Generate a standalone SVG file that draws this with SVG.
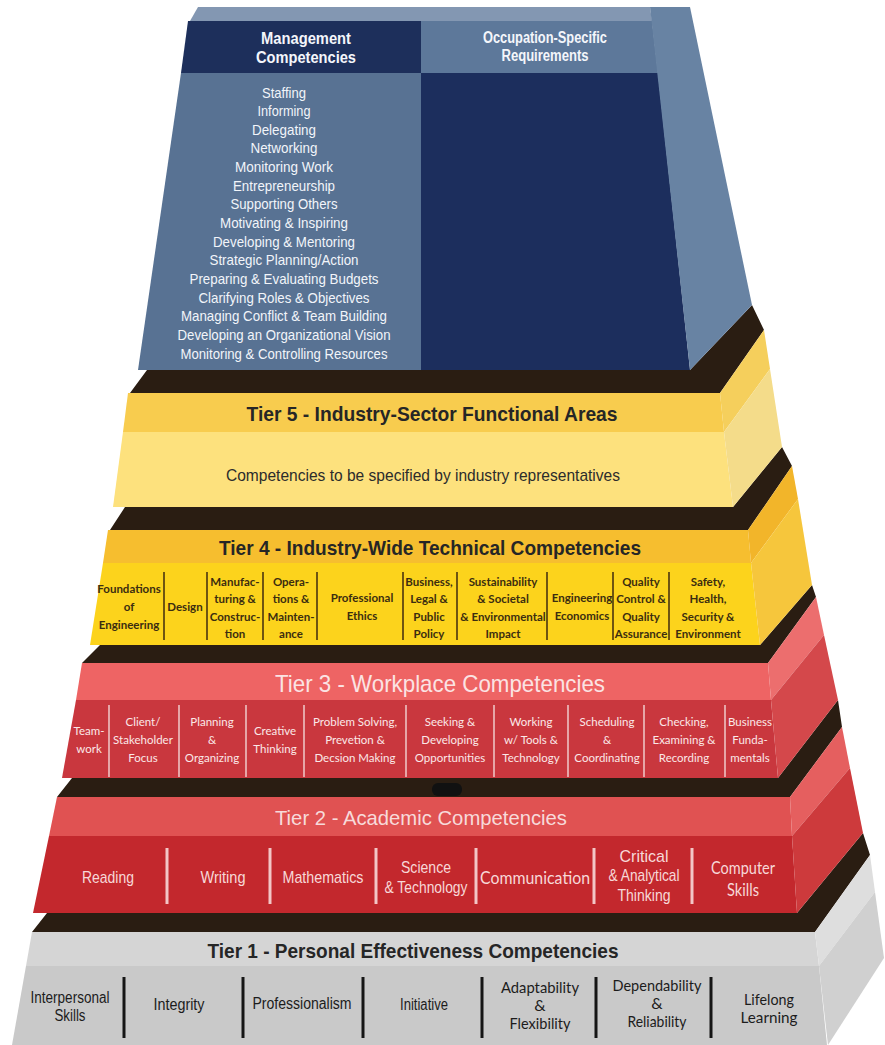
<svg xmlns="http://www.w3.org/2000/svg" width="885" height="1045" viewBox="0 0 885 1045">
  <defs>
    <style>
      text { text-anchor: middle; dominant-baseline: central; }
      .nar { font-family: 'Liberation Sans', Arial, sans-serif; }
      .cal { font-family: Lato, 'Open Sans', 'Liberation Sans', sans-serif; }
      .band { fill: #2a1d12; }
      .mg { fill: #f2f5fa; font-size: 15px; }
      .hd { fill: #f4f6fb; font-size: 16px; font-weight: bold; }
      .ttl { font-size: 21px; font-weight: bold; fill: #262626; }
      .t4 { fill: #3b2d10; font-size: 11.5px; font-weight: bold; }
      .t3 { fill: #fbe8e8; font-size: 11.5px; }
      .t2 { fill: #f7d8d8; font-size: 17px; }
      .t1 { fill: #1c1c1c; font-size: 16px; }
      .d4 { stroke: #4a3510; stroke-width: 1.6; }
      .d3 { stroke: #f2d6d6; stroke-width: 1.4; }
      .d2 { stroke: #f3c6c6; stroke-width: 3; }
      .d1 { stroke: #151515; stroke-width: 3; }
    </style>
  </defs>
  <rect width="885" height="1045" fill="#ffffff"/>

  <!-- Tier 1: personal effectiveness (grey slab, drawn first, furthest back) -->
  <g id="tier1">
    <polygon class="band" points="32,932 47,913 797,913 863,833 870,855 815,932"/>
    <polygon fill="#d5d5d5" points="32,932 815,932 819,966 26,966"/>
    <polygon fill="#c9c9c9" points="26,966 819,966 827,1045 12,1045"/>
    <polygon fill="#dedede" points="815,932 870,855 875,892 819,966"/>
    <polygon fill="#d0d0d0" points="819,966 875,892 884,958 828,1045"/>
    <text class="nar ttl" x="413" y="950" textLength="411" lengthAdjust="spacingAndGlyphs">Tier 1 - Personal Effectiveness Competencies</text>
    <g class="d1">
      <line x1="124" y1="977" x2="124" y2="1038"/>
      <line x1="243" y1="977" x2="243" y2="1038"/>
      <line x1="363" y1="977" x2="363" y2="1038"/>
      <line x1="482" y1="977" x2="482" y2="1038"/>
      <line x1="596" y1="977" x2="596" y2="1038"/>
      <line x1="711" y1="977" x2="711" y2="1038"/>
    </g>
    <text class="nar t1" x="70" y="997" textLength="79" lengthAdjust="spacingAndGlyphs">Interpersonal</text>
    <text class="nar t1" x="70" y="1015" textLength="31" lengthAdjust="spacingAndGlyphs">Skills</text>
    <text class="nar t1" x="179" y="1004" textLength="51" lengthAdjust="spacingAndGlyphs">Integrity</text>
    <text class="nar t1" x="302" y="1003" textLength="99" lengthAdjust="spacingAndGlyphs">Professionalism</text>
    <text class="nar t1" x="424" y="1004" textLength="48" lengthAdjust="spacingAndGlyphs">Initiative</text>
    <text class="cal t1" x="540" y="986" font-size="14.5" textLength="78" lengthAdjust="spacingAndGlyphs">Adaptability</text>
    <text class="cal t1" x="540" y="1004" font-size="14.5">&amp;</text>
    <text class="cal t1" x="540" y="1022" font-size="14.5" textLength="61" lengthAdjust="spacingAndGlyphs">Flexibility</text>
    <text class="cal t1" x="657" y="984" font-size="14.5" textLength="89" lengthAdjust="spacingAndGlyphs">Dependability</text>
    <text class="cal t1" x="657" y="1002" font-size="14.5">&amp;</text>
    <text class="cal t1" x="657" y="1020" font-size="14.5" textLength="59" lengthAdjust="spacingAndGlyphs">Reliability</text>
    <text class="cal t1" x="769" y="998" font-size="14.5" textLength="50" lengthAdjust="spacingAndGlyphs">Lifelong</text>
    <text class="cal t1" x="769" y="1016" font-size="14.5" textLength="57" lengthAdjust="spacingAndGlyphs">Learning</text>
  </g>

  <!-- Tier 2: academic -->
  <g id="tier2">
    <polygon class="band" points="57,797 72,778 778,778 838,700 842,727 790,797"/>
    <rect x="432" y="783" width="30" height="13" rx="6" fill="#111111"/>
    <polygon fill="#e05252" points="57,797 790,797 792,836 49,836"/>
    <polygon fill="#c3282d" points="49,836 792,836 797,913 33,913"/>
    <polygon fill="#e55f5f" points="790,797 842,727 850,768 792,836"/>
    <polygon fill="#cd3a3c" points="792,836 850,768 863,833 797,913"/>
    <text class="nar" x="421" y="817" font-size="21" fill="#f7dada" textLength="292" lengthAdjust="spacingAndGlyphs">Tier 2 - Academic Competencies</text>
    <g class="d2">
      <line x1="167" y1="848" x2="167" y2="904"/>
      <line x1="270" y1="848" x2="270" y2="904"/>
      <line x1="376" y1="848" x2="376" y2="904"/>
      <line x1="476" y1="848" x2="476" y2="904"/>
      <line x1="594" y1="848" x2="594" y2="904"/>
      <line x1="692" y1="848" x2="692" y2="904"/>
    </g>
    <text class="nar t2" x="108" y="877" textLength="52" lengthAdjust="spacingAndGlyphs">Reading</text>
    <text class="nar t2" x="223" y="877" textLength="45" lengthAdjust="spacingAndGlyphs">Writing</text>
    <text class="nar t2" x="323" y="877" textLength="81" lengthAdjust="spacingAndGlyphs">Mathematics</text>
    <text class="nar t2" x="426" y="867" textLength="50" lengthAdjust="spacingAndGlyphs">Science</text>
    <text class="nar t2" x="426" y="887" textLength="83" lengthAdjust="spacingAndGlyphs">&amp; Technology</text>
    <text class="cal t2" x="535" y="877" font-size="16" textLength="110" lengthAdjust="spacingAndGlyphs">Communication</text>
    <text class="nar t2" x="644" y="856" textLength="49" lengthAdjust="spacingAndGlyphs">Critical</text>
    <text class="nar t2" x="644" y="875" textLength="71" lengthAdjust="spacingAndGlyphs">&amp; Analytical</text>
    <text class="nar t2" x="644" y="895" textLength="53" lengthAdjust="spacingAndGlyphs">Thinking</text>
    <text class="cal t2" x="743" y="867" font-size="16" textLength="64" lengthAdjust="spacingAndGlyphs">Computer</text>
    <text class="cal t2" x="743" y="889" font-size="16" textLength="32" lengthAdjust="spacingAndGlyphs">Skills</text>
  </g>

  <!-- Tier 3: workplace -->
  <g id="tier3">
    <polygon class="band" points="82,663 100,645 760,645 812,585 816,597 768,663"/>
    <polygon fill="#ee6464" points="82,663 768,663 771,700 76,700"/>
    <polygon fill="#c9373e" points="76,700 771,700 778,778 62,778"/>
    <polygon fill="#ec6e6e" points="768,663 816,597 824,635 771,700"/>
    <polygon fill="#d4484b" points="771,700 824,635 838,700 778,778"/>
    <text class="nar" x="440" y="683" font-size="24" fill="#fbe3e3" textLength="330" lengthAdjust="spacingAndGlyphs">Tier 3 - Workplace Competencies</text>
    <g class="d3">
      <line x1="109" y1="705" x2="109" y2="777"/>
      <line x1="179" y1="705" x2="179" y2="777"/>
      <line x1="246" y1="705" x2="246" y2="777"/>
      <line x1="304" y1="705" x2="304" y2="777"/>
      <line x1="406" y1="705" x2="406" y2="777"/>
      <line x1="494" y1="705" x2="494" y2="777"/>
      <line x1="568" y1="705" x2="568" y2="777"/>
      <line x1="644" y1="705" x2="644" y2="777"/>
      <line x1="725" y1="705" x2="725" y2="777"/>
    </g>
    <text class="cal t3" x="89" y="730">Team-</text>
    <text class="cal t3" x="89" y="748">work</text>
    <text class="cal t3" x="143" y="721">Client/</text>
    <text class="cal t3" x="143" y="739">Stakeholder</text>
    <text class="cal t3" x="143" y="757">Focus</text>
    <text class="cal t3" x="212" y="721">Planning</text>
    <text class="cal t3" x="212" y="739">&amp;</text>
    <text class="cal t3" x="212" y="757">Organizing</text>
    <text class="cal t3" x="275" y="730">Creative</text>
    <text class="cal t3" x="275" y="748">Thinking</text>
    <text class="cal t3" x="355" y="721">Problem Solving,</text>
    <text class="cal t3" x="355" y="739">Prevetion &amp;</text>
    <text class="cal t3" x="355" y="757">Decsion Making</text>
    <text class="cal t3" x="450" y="721">Seeking &amp;</text>
    <text class="cal t3" x="450" y="739">Developing</text>
    <text class="cal t3" x="450" y="757">Opportunities</text>
    <text class="cal t3" x="531" y="721">Working</text>
    <text class="cal t3" x="531" y="739">w/ Tools &amp;</text>
    <text class="cal t3" x="531" y="757">Technology</text>
    <text class="cal t3" x="607" y="721">Scheduling</text>
    <text class="cal t3" x="607" y="739">&amp;</text>
    <text class="cal t3" x="607" y="757">Coordinating</text>
    <text class="cal t3" x="684" y="721">Checking,</text>
    <text class="cal t3" x="684" y="739">Examining &amp;</text>
    <text class="cal t3" x="684" y="757">Recording</text>
    <text class="cal t3" x="750" y="721">Business</text>
    <text class="cal t3" x="750" y="739">Funda-</text>
    <text class="cal t3" x="750" y="757">mentals</text>
  </g>

  <!-- Tier 4: industry-wide technical -->
  <g id="tier4">
    <polygon class="band" points="110,530 125,507 733,507 782,447 792,466 748,530"/>
    <polygon fill="#f6be2f" points="108,530 748,530 751,563 103,563"/>
    <polygon fill="#fcd31c" points="103,563 751,563 760,645 90,645"/>
    <polygon fill="#f2b52a" points="748,530 792,466 798,499 751,563"/>
    <polygon fill="#f6c63c" points="751,563 798,499 812,585 760,645"/>
    <text class="nar ttl" x="430" y="547" textLength="422" lengthAdjust="spacingAndGlyphs">Tier 4 - Industry-Wide Technical Competencies</text>
    <g class="d4">
      <line x1="164" y1="572" x2="164" y2="640"/>
      <line x1="207" y1="572" x2="207" y2="640"/>
      <line x1="263" y1="572" x2="263" y2="640"/>
      <line x1="317" y1="572" x2="317" y2="640"/>
      <line x1="403" y1="572" x2="403" y2="640"/>
      <line x1="457" y1="572" x2="457" y2="640"/>
      <line x1="547" y1="572" x2="547" y2="640"/>
      <line x1="613" y1="572" x2="613" y2="640"/>
      <line x1="669" y1="572" x2="669" y2="640"/>
    </g>
    <text class="cal t4" x="129" y="588">Foundations</text>
    <text class="cal t4" x="129" y="606">of</text>
    <text class="cal t4" x="129" y="624">Engineering</text>
    <text class="cal t4" x="185" y="606">Design</text>
    <text class="cal t4" x="235" y="581">Manufac-</text>
    <text class="cal t4" x="235" y="598">turing &amp;</text>
    <text class="cal t4" x="235" y="616">Construc-</text>
    <text class="cal t4" x="235" y="633">tion</text>
    <text class="cal t4" x="291" y="581">Opera-</text>
    <text class="cal t4" x="291" y="598">tions &amp;</text>
    <text class="cal t4" x="291" y="616">Mainten-</text>
    <text class="cal t4" x="291" y="633">ance</text>
    <text class="cal t4" x="362" y="597">Professional</text>
    <text class="cal t4" x="362" y="615">Ethics</text>
    <text class="cal t4" x="429" y="581">Business,</text>
    <text class="cal t4" x="429" y="598">Legal &amp;</text>
    <text class="cal t4" x="429" y="616">Public</text>
    <text class="cal t4" x="429" y="633">Policy</text>
    <text class="cal t4" x="503" y="581">Sustainability</text>
    <text class="cal t4" x="503" y="598">&amp; Societal</text>
    <text class="cal t4" x="503" y="616">&amp; Environmental</text>
    <text class="cal t4" x="503" y="633">Impact</text>
    <text class="cal t4" x="582" y="597">Engineering</text>
    <text class="cal t4" x="582" y="615">Economics</text>
    <text class="cal t4" x="641" y="581">Quality</text>
    <text class="cal t4" x="641" y="598">Control &amp;</text>
    <text class="cal t4" x="641" y="616">Quality</text>
    <text class="cal t4" x="641" y="633">Assurance</text>
    <text class="cal t4" x="708" y="581">Safety,</text>
    <text class="cal t4" x="708" y="598">Health,</text>
    <text class="cal t4" x="708" y="616">Security &amp;</text>
    <text class="cal t4" x="708" y="633">Environment</text>
  </g>

  <!-- Tier 5: industry-sector functional areas -->
  <g id="tier5">
    <polygon class="band" points="130,393 147,370 690,370 752,305 764,330 720,393"/>
    <polygon fill="#f8cc4e" points="128,393 720,393 724,432 123,432"/>
    <polygon fill="#fde17d" points="123,432 724,432 733,507 113,507"/>
    <polygon fill="#f5cf5c" points="720,393 764,330 770,369 724,432"/>
    <polygon fill="#f4dc8a" points="724,432 770,369 782,447 733,507"/>
    <text class="nar ttl" x="432" y="413" textLength="371" lengthAdjust="spacingAndGlyphs">Tier 5 - Industry-Sector Functional Areas</text>
    <text class="nar" x="423" y="475" font-size="17" fill="#2c2c2c" textLength="394" lengthAdjust="spacingAndGlyphs">Competencies to be specified by industry representatives</text>
  </g>

  <!-- Management competencies and occupation-specific requirements (top block) -->
  <g id="management">
    <polygon fill="#8397b2" points="190,21 198,7 650,7 652,21"/>
    <polygon fill="#1d2f5b" points="188,21 421,21 421,73 181,73"/>
    <polygon fill="#5d789a" points="421,21 652,21 658,73 421,73"/>
    <polygon fill="#587293" points="181,73 421,73 421,370 138,370"/>
    <polygon fill="#1c2e5d" points="421,73 658,73 690,370 421,370"/>
    <polygon fill="#6883a3" points="650,7 690,7 752,305 690,370"/>
    <text class="nar hd" x="306" y="38" textLength="90" lengthAdjust="spacingAndGlyphs">Management</text>
    <text class="nar hd" x="306" y="57" textLength="100" lengthAdjust="spacingAndGlyphs">Competencies</text>
    <text class="nar hd" x="545" y="37" font-size="15" textLength="124" lengthAdjust="spacingAndGlyphs">Occupation-Specific</text>
    <text class="nar hd" x="545" y="55" font-size="15" textLength="87" lengthAdjust="spacingAndGlyphs">Requirements</text>
    <text class="nar mg" x="284" y="92" textLength="44" lengthAdjust="spacingAndGlyphs">Staffing</text>
    <text class="nar mg" x="284" y="110.6" textLength="53" lengthAdjust="spacingAndGlyphs">Informing</text>
    <text class="nar mg" x="284" y="129.3" textLength="64" lengthAdjust="spacingAndGlyphs">Delegating</text>
    <text class="nar mg" x="284" y="147.9" textLength="67" lengthAdjust="spacingAndGlyphs">Networking</text>
    <text class="nar mg" x="284" y="166.6" textLength="98" lengthAdjust="spacingAndGlyphs">Monitoring Work</text>
    <text class="nar mg" x="284" y="185.2" textLength="102" lengthAdjust="spacingAndGlyphs">Entrepreneurship</text>
    <text class="nar mg" x="284" y="203.8" textLength="107" lengthAdjust="spacingAndGlyphs">Supporting Others</text>
    <text class="nar mg" x="284" y="222.5" textLength="128" lengthAdjust="spacingAndGlyphs">Motivating &amp; Inspiring</text>
    <text class="nar mg" x="284" y="241.1" textLength="142" lengthAdjust="spacingAndGlyphs">Developing &amp; Mentoring</text>
    <text class="nar mg" x="284" y="259.8" textLength="149" lengthAdjust="spacingAndGlyphs">Strategic Planning/Action</text>
    <text class="nar mg" x="284" y="278.4" textLength="189" lengthAdjust="spacingAndGlyphs">Preparing &amp; Evaluating Budgets</text>
    <text class="nar mg" x="284" y="297" textLength="171" lengthAdjust="spacingAndGlyphs">Clarifying Roles &amp; Objectives</text>
    <text class="nar mg" x="284" y="315.7" textLength="206" lengthAdjust="spacingAndGlyphs">Managing Conflict &amp; Team Building</text>
    <text class="nar mg" x="284" y="334.3" textLength="213" lengthAdjust="spacingAndGlyphs">Developing an Organizational Vision</text>
    <text class="nar mg" x="284" y="353" textLength="207" lengthAdjust="spacingAndGlyphs">Monitoring &amp; Controlling Resources</text>
  </g>
</svg>
